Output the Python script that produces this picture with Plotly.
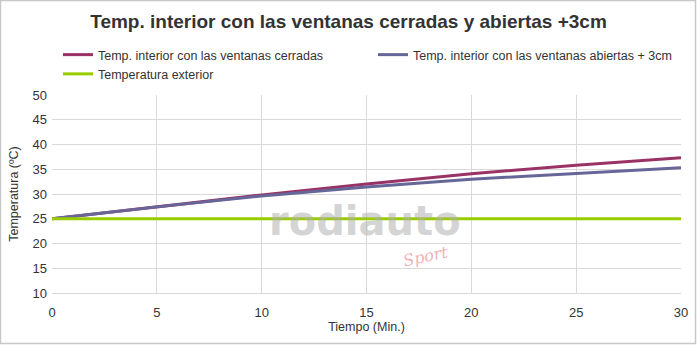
import plotly.graph_objects as go

minutos = [0, 5, 10, 15, 20, 25, 30]
cerradas = [25, 27.4, 29.8, 32.0, 34.1, 35.8, 37.3]
abiertas = [25, 27.4, 29.6, 31.4, 33.0, 34.2, 35.3]
exterior = [25, 25, 25, 25, 25, 25, 25]

nombres = ["Temp. interior con las ventanas cerradas",
           "Temp. interior con las ventanas abiertas + 3cm",
           "Temperatura exterior"]
colores = ["#993366", "#666699", "#99CC00"]

W, H = 697, 345
ml, mr, mt, mb = 52, 16, 95, 52
pw, ph = W - ml - mr, H - mt - mb

font = "Liberation Sans Narrow, Arial Narrow, Liberation Sans, Arial, sans-serif"

fig = go.Figure()
for y, n, c in zip([cerradas, abiertas, exterior], nombres, colores):
    fig.add_trace(go.Scatter(x=minutos, y=y, name=n, mode="lines",
                             line=dict(color=c, width=3)))

fig.update_layout(
    width=W, height=H,
    margin=dict(l=ml, r=mr, t=mt, b=mb, autoexpand=False),
    paper_bgcolor="white", plot_bgcolor="white",
    font=dict(family=font, size=12.5, color="#333333"),
    title=dict(text="<b>Temp. interior con las ventanas cerradas y abiertas +3cm</b>",
               x=0.5, xanchor="center", y=1 - 21 / H, yanchor="middle",
               font=dict(family="Liberation Sans, Arial, sans-serif", size=19, color="#333333")),
    legend=dict(orientation="h", xref="container", yref="container",
                x=58 / W, y=1 - 40 / H, xanchor="left", yanchor="top",
                entrywidth=270, entrywidthmode="pixels", itemwidth=30,
                font=dict(family=font, size=12.5, color="#333333"),
                tracegroupgap=0, itemclick=False),
    showlegend=True,
    xaxis=dict(range=[0, 30], dtick=5, showgrid=True, gridcolor="#d9d9d9",
               zeroline=False, showline=True, linecolor="#d9d9d9",
               ticks="", ticklen=0, ticklabelstandoff=7, tickfont=dict(size=13),
               title=dict(text="Tiempo (Min.)", font=dict(size=12.5), standoff=3)),
    yaxis=dict(range=[10, 50], dtick=5, showgrid=True, gridcolor="#d9d9d9",
               zeroline=False, showline=False,
               ticks="", ticklabelstandoff=4, tickfont=dict(size=13),
               title=dict(text="Temperatura (ºC)", font=dict(size=12.5), standoff=11)),
)

# watermark
fig.add_annotation(text="<b>rodiauto</b>", xref="paper", yref="paper",
                   x=(365 - ml) / pw, y=1 - (246 - mt) / ph, showarrow=False,
                   font=dict(family="DejaVu Sans, sans-serif", size=40, color="rgba(175,175,175,0.55)"))
fig.add_annotation(text="<i>Sport</i>", xref="paper", yref="paper",
                   x=(425 - ml) / pw, y=1 - (273 - mt) / ph, showarrow=False, textangle=-12,
                   font=dict(family="DejaVu Serif, serif", size=16, color="rgba(235,140,150,0.7)"))

# outer border
fig.add_shape(type="rect", xref="paper", yref="paper",
              x0=(0.5 - ml) / pw, x1=(W - 1.5 - ml) / pw,
              y0=1 - (H - 1.5 - mt) / ph, y1=1 - (0.5 - mt) / ph,
              line=dict(color="#c8c8c8", width=1.5), layer="below")

fig.write_html("out.html")
